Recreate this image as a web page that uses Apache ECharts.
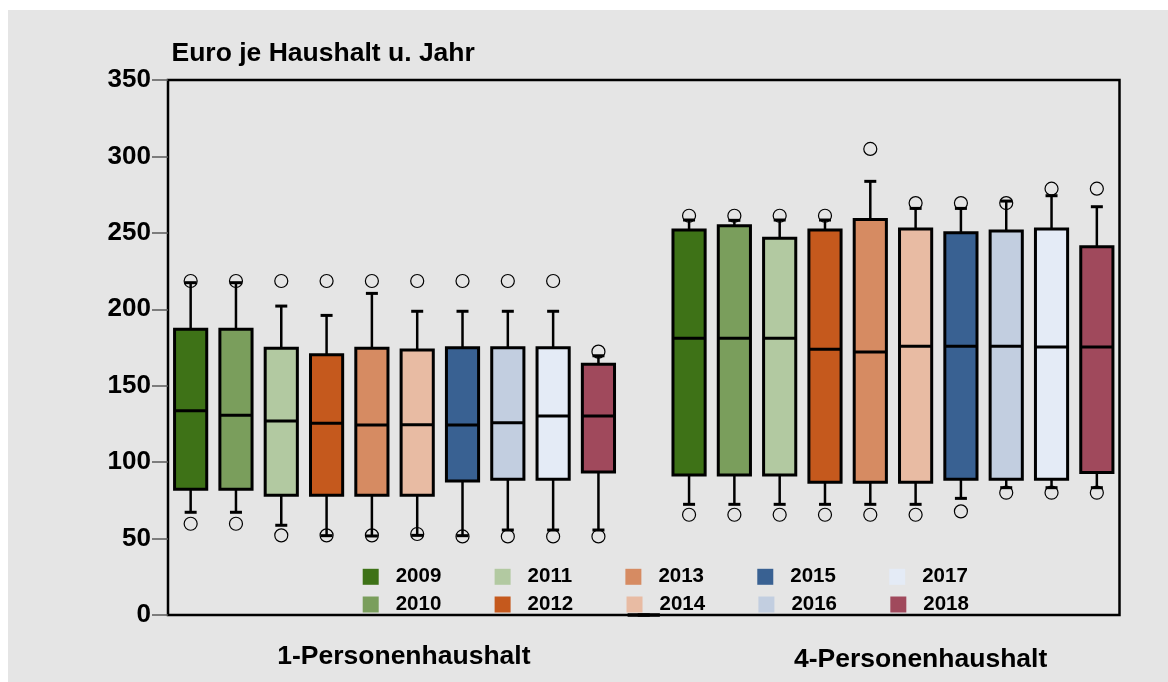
<!DOCTYPE html>
<html>
<head>
<meta charset="utf-8">
<title>Euro je Haushalt u. Jahr</title>
<script src="https://cdn.jsdelivr.net/npm/echarts@6/dist/echarts.min.js"></script>
<style>
  html, body { margin: 0; padding: 0; background: #ffffff; }
  #wrap { position: relative; width: 1168px; height: 682px; overflow: hidden; }
  #panel { position: absolute; left: 8px; top: 10px; right: 0; bottom: 0; background: #e5e5e5; }
  #chart { position: absolute; left: 0; top: 0; width: 1168px; height: 682px; }
</style>
</head>
<body>
<div id="wrap"><div id="panel"></div><div id="chart"></div></div>
<script>
// ---- data ----
const years = ['2009', '2010', '2011', '2012', '2013', '2014', '2015', '2016', '2017', '2018'];
const households = ['1-Personenhaushalt', '4-Personenhaushalt'];
const yearColors = ['#3e7217', '#7a9e5c', '#b2c9a1', '#c5591d', '#d68b62',
                    '#e8bba3', '#396192', '#c2cee0', '#e4ebf6', '#a0495c'];

// [lower whisker, Q1, median, Q3, upper whisker]
const onePersonStats = [
  [67.2, 82.2, 133.7, 186.9, 217.4],
  [67.2, 82.2, 130.6, 186.9, 217.4],
  [58.7, 78.3, 126.9, 174.5, 202.1],
  [51.9, 78.3, 125.4, 170.3, 196.0],
  [51.7, 78.3, 124.3, 174.5, 210.4],
  [52.1, 78.3, 124.5, 173.4, 198.7],
  [51.9, 87.7, 124.3, 174.9, 198.7],
  [55.6, 88.8, 125.8, 174.9, 198.7],
  [55.6, 88.8, 130.2, 174.9, 198.7],
  [55.6, 93.5, 130.2, 164.0, 169.6]
];
// [lower outlier, upper outlier]
const onePersonOutliers = [
  [59.7, 218.5], [59.7, 218.5], [52.1, 218.5], [52.1, 218.5], [52.1, 218.5],
  [53.0, 218.5], [51.4, 218.5], [51.4, 218.5], [51.4, 218.5], [51.4, 172.3]
];

const fourPersonStats = [
  [72.4, 91.6, 181.0, 251.9, 258.4],
  [72.4, 91.6, 181.0, 254.7, 258.2],
  [72.4, 91.6, 181.0, 246.4, 258.4],
  [72.4, 86.8, 173.8, 251.9, 258.4],
  [72.4, 86.8, 172.0, 258.8, 283.7],
  [72.4, 86.8, 175.8, 252.5, 266.0],
  [76.3, 88.8, 175.8, 250.1, 266.0],
  [83.3, 88.8, 175.8, 251.2, 270.8],
  [83.3, 88.8, 175.3, 252.5, 274.3],
  [83.3, 93.3, 175.3, 240.9, 267.1]
];
const fourPersonOutliers = [
  [65.6, 261.2], [65.6, 261.2], [65.6, 261.2], [65.6, 261.2], [65.6, 304.9],
  [65.6, 269.5], [67.8, 269.5], [80.0, 269.5], [80.0, 278.9], [80.0, 278.9]
];

// empty separator slot between the two household groups
const separatorStats = [0, 0, 0, 0, 0];

const yTickValues = [0, 50, 100, 150, 200, 250, 300, 350];

// ---- layout helpers ----
const FONT = '"Liberation Sans", Arial, Helvetica, sans-serif';
const slotNames = [
  ...years.map(y => households[0] + ' ' + y),
  '',
  ...years.map(y => households[1] + ' ' + y)
];
const slotOf = (group, i) => (group === 0 ? i : years.length + 1 + i);

function renderBox(params, api) {
  const x = api.value(0);
  const lo = api.value(1), q1 = api.value(2), med = api.value(3), q3 = api.value(4), hi = api.value(5);
  const band = api.size([1, 0])[0];
  const half = band * 0.355;
  const cap = 6;
  const cx = api.coord([x, med])[0];
  const y = v => api.coord([x, v])[1];
  const line = (x1, y1, x2, y2, w) => ({
    type: 'line', shape: { x1, y1, x2, y2 },
    style: { stroke: '#000', lineWidth: w }
  });
  return {
    type: 'group',
    children: [
      line(cx, y(q3), cx, y(hi), 2.5),
      line(cx, y(q1), cx, y(lo), 2.5),
      line(cx - cap, y(hi), cx + cap, y(hi), 3),
      line(cx - cap, y(lo), cx + cap, y(lo), 3),
      {
        type: 'rect',
        shape: { x: cx - half, y: y(q3), width: 2 * half, height: y(q1) - y(q3) },
        style: { fill: api.visual('color'), stroke: '#000', lineWidth: 3 }
      },
      line(cx - half, y(med), cx + half, y(med), 3)
    ]
  };
}

const boxSeries = years.map((year, i) => ({
  type: 'custom',
  name: year,
  itemStyle: { color: yearColors[i] },
  encode: { x: 0, y: [1, 2, 3, 4, 5] },
  renderItem: renderBox,
  silent: true,
  z: 2,
  data: [
    [slotOf(0, i), ...onePersonStats[i]],
    [slotOf(1, i), ...fourPersonStats[i]]
  ]
}));

const separatorSeries = {
  type: 'custom',
  name: 'separator',
  itemStyle: { color: '#000' },
  encode: { x: 0, y: [1, 2, 3, 4, 5] },
  renderItem: renderBox,
  silent: true,
  z: 4,
  data: [[years.length, ...separatorStats]]
};

const outlierData = [
  ...years.flatMap((y, i) => onePersonOutliers[i].map(v => [slotOf(0, i), v])),
  ...years.flatMap((y, i) => fourPersonOutliers[i].map(v => [slotOf(1, i), v]))
];

const outlierSeries = {
  type: 'scatter',
  name: 'outliers',
  symbol: 'circle',
  symbolSize: 13,
  silent: true,
  z: 3,
  itemStyle: { color: 'rgba(0,0,0,0)', borderColor: '#000', borderWidth: 1.2, opacity: 1 },
  data: outlierData
};

const legendText = {
  fontFamily: FONT, fontSize: 20.5, fontWeight: 'bold', color: '#000',
  width: 47, padding: [0, 0, 0, 12]
};
const legendBase = {
  orient: 'horizontal', left: 362.7, padding: 0,
  icon: 'rect', itemWidth: 16, itemHeight: 16, itemGap: 53.3,
  itemStyle: { borderWidth: 0 },
  selectedMode: false,
  textStyle: legendText
};

const labelFont = { fontFamily: FONT, fontSize: 26.5, fontWeight: 'bold', color: '#000' };

const chart = echarts.init(document.getElementById('chart'), null, { renderer: 'canvas' });
chart.setOption({
  backgroundColor: 'transparent',
  animation: false,
  title: {
    text: 'Euro je Haushalt u. Jahr',
    left: 171.5, top: 40, padding: 0,
    textStyle: { fontFamily: FONT, fontSize: 26.5, fontWeight: 'bold', color: '#000' }
  },
  grid: {
    left: 168, right: 48.5, top: 80, bottom: 67,
    show: true, borderColor: '#000', borderWidth: 2.5, backgroundColor: 'transparent'
  },
  legend: [
    Object.assign({}, legendBase, { top: 566.3, data: years.filter((y, i) => i % 2 === 0) }),
    Object.assign({}, legendBase, { top: 594, data: years.filter((y, i) => i % 2 === 1) })
  ],
  xAxis: [
    {
      type: 'category', data: slotNames, boundaryGap: true,
      axisLine: { show: false }, axisTick: { show: false },
      axisLabel: { show: false }, splitLine: { show: false }
    },
    {
      type: 'category', data: households, position: 'bottom',
      axisLine: { show: false }, axisTick: { show: false }, splitLine: { show: false },
      axisLabel: {
        interval: 0, margin: 28.5,
        formatter: (v, idx) => (idx === 0 ? '{a|' + v + '}' : '{b|' + v + '}'),
        rich: {
          a: Object.assign({ padding: [0, 4, 0, 0] }, labelFont),
          b: Object.assign({ padding: [3, 0, 0, 78] }, labelFont)
        }
      }
    }
  ],
  yAxis: {
    type: 'value',
    min: yTickValues[0], max: yTickValues[yTickValues.length - 1],
    interval: yTickValues[1] - yTickValues[0],
    axisLine: { show: false },
    axisTick: { show: true, inside: false, length: 16, lineStyle: { color: '#5a5a5a', width: 1.5 } },
    splitLine: { show: false },
    axisLabel: { margin: 17, fontFamily: FONT, fontSize: 26, fontWeight: 'bold', color: '#000' }
  },
  series: [...boxSeries, separatorSeries, outlierSeries]
});
</script>
</body>
</html>
